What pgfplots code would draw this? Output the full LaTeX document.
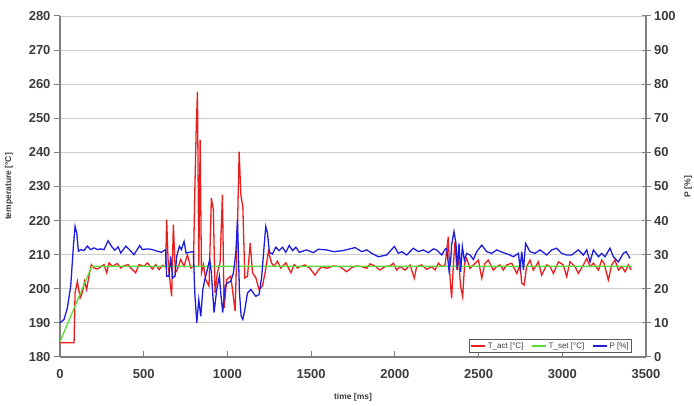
\documentclass[border=0pt]{standalone}
\usepackage{pgfplots}
\pgfplotsset{compat=1.18}
\usepackage{fontspec}
\setmainfont{Liberation Sans}

\definecolor{tact}{RGB}{235,30,30}
\definecolor{tset}{RGB}{90,220,60}
\definecolor{pline}{RGB}{30,30,225}
\definecolor{axisgray}{RGB}{128,128,128}
\definecolor{gridgray}{RGB}{205,205,205}
\definecolor{labelgray}{RGB}{60,60,60}

\pgfplotsset{
  chartbase/.style={
    at={(0,0)}, anchor=south west,
    scale only axis, width=586pt, height=341pt,
    xmin=0, xmax=3500,
    axis line style={draw=axisgray, line width=1.2pt},
    tick style={draw=axisgray, line width=1pt},
    major tick length=6pt,
    ticklabel style={font=\bfseries\fontsize{13}{13}\selectfont, text=labelgray},
    label style={font=\bfseries\fontsize{8.5}{8.5}\selectfont, text=labelgray},
    /pgf/number format/assume math mode=true,
    /pgf/number format/1000 sep={},
  },
}

\begin{document}
\begin{tikzpicture}[x=1pt,y=1pt]
\path[use as bounding box] (-60,-49) rectangle (634,357);

\begin{axis}[
    chartbase,
    ymin=180, ymax=280,
    xtick={0,500,...,3500},
    ytick={180,190,...,280},
    axis x line*=bottom, axis y line*=left,
    xtick align=inside, ytick align=outside,
    ymajorgrids, grid style={draw=gridgray, line width=0.8pt},
    xticklabel style={yshift=-9pt},
    xlabel={time [ms]}, ylabel={temperature [°C]},
    xlabel style={at={(axis description cs:0.5,-0.117)}, anchor=center},
    ylabel style={at={(axis description cs:-0.087,0.5)}, anchor=center},
    legend style={at={(0.976,0.012)}, anchor=south east,
        draw=black!65, line width=0.6pt, inner sep=1pt,
        font=\fontsize{8}{8}\selectfont, text=labelgray,
        legend columns=3,
        /tikz/every even column/.append style={column sep=6pt}},
    legend image post style={line width=1.2pt},
    legend image code/.code={\draw[#1] (0pt,0pt) -- (14pt,0pt);},
]

% T_act
\addplot[tact, line width=1.3pt] coordinates {
(0,184.2) (84,184.2) (90,198.8) (104,202.2) (120,197.3) (133,198.8) (147,202.2)
(159,199.8) (173,203.7) (187,207.1) (203,206.1) (223,205.8) (243,206.4) (263,207.1)
(279,204.7) (293,207.6) (313,206.6) (343,207.4) (363,206.1) (383,206.8) (407,207.1)
(423,206.1) (452,204.7) (472,207.1) (502,206.6) (522,207.6) (552,205.8) (572,207.1)
(592,205.6) (612,206.9) (631,206.4) (637,220.3) (647,206.6) (667,197.8) (677,218.8)
(689,204.7) (701,205.6) (721,208.6) (741,206.6) (761,210.0) (781,206.1) (797,206.6)
(805,228.0) (813,246.0) (821,257.8) (829,206.6) (837,243.6) (845,204.7) (857,207.1)
(870,202.7) (890,200.8) (904,226.6) (916,223.2) (926,198.8) (940,204.7) (956,207.6)
(970,227.6) (980,194.4) (996,202.7) (1020,203.7) (1046,193.5) (1060,218.3) (1070,240.2)
(1080,227.6) (1092,224.0) (1104,203.2) (1120,203.7) (1136,213.4) (1150,204.7) (1170,203.2)
(1189,199.8) (1209,200.8) (1225,204.7) (1245,211.0) (1263,207.6) (1279,206.6) (1299,208.1)
(1319,206.1) (1349,207.6) (1379,204.7) (1399,207.1) (1419,206.1)
(1434,206.5) (1463,207.0) (1493,206.0) (1523,204.0) (1543,205.5) (1563,206.5) (1593,206.0)
(1633,206.7) (1672,206.5) (1712,205.0) (1742,206.2) (1772,206.7) (1802,206.5) (1832,206.0)
(1852,207.3) (1881,206.7) (1911,205.5) (1941,206.5) (1971,206.7) (1991,207.5) (2011,205.5)
(2031,206.5) (2061,205.5) (2091,207.0) (2116,203.1) (2130,206.5) (2160,207.0) (2190,205.7)
(2220,206.5) (2240,205.5) (2260,207.5) (2280,206.5) (2300,207.0) (2319,215.3) (2329,203.6)
(2339,197.2) (2349,206.5) (2359,213.8) (2369,206.5) (2381,208.4) (2393,200.6) (2405,197.7)
(2417,207.5) (2429,208.9) (2449,206.0) (2469,207.0) (2499,208.4) (2519,203.1) (2538,207.5)
(2558,208.4) (2588,205.5) (2608,206.5) (2628,207.0) (2648,205.5) (2668,207.0) (2698,207.5)
(2728,204.5) (2748,207.0) (2758,201.6) (2772,201.1) (2787,206.5) (2807,208.4) (2827,205.5)
(2857,207.9) (2877,204.0) (2907,207.0) (2927,206.5) (2947,204.5) (2977,207.9) (3006,207.0)
(3026,203.6) (3046,207.9) (3076,206.5) (3096,204.5) (3126,207.0) (3146,208.9) (3166,206.5)
(3186,207.5) (3216,205.5) (3235,208.4) (3249,207.5) (3275,202.6) (3295,207.0) (3315,208.4)
(3335,205.5) (3355,206.5) (3375,205.0) (3395,207.0) (3411,205.5)
};
\addlegendentry{T\_act [°C]}

% T_set
\addplot[tset, line width=1.3pt] coordinates {
(0,184.5) (190,206.6) (3415,206.6)
};
\addlegendentry{T\_set [°C]}

\addlegendimage{pline, line width=1.3pt}
\addlegendentry{P [\%]}
\end{axis}

\begin{axis}[
    chartbase,
    ymin=0, ymax=100,
    ytick={0,10,...,100},
    axis y line*=right, axis x line=none,
    ytick align=center, major tick length=9pt,
    ylabel={P [\%]},
    ylabel style={at={(axis description cs:1.072,0.5)}, anchor=center},
]
% P
\addplot[pline, line width=1.3pt] coordinates {
(0,10.0) (24,11.0) (44,14.4) (64,20.8) (80,32.5) (90,38.3) (100,36.4) (110,31.0)
(124,31.5) (143,31.2) (163,32.5) (183,31.5) (203,32.0) (223,31.5) (243,31.7) (263,31.5)
(287,34.1) (307,32.5) (327,31.3) (347,32.3) (363,30.5) (393,32.5) (418,31.3) (442,30.0)
(476,32.7) (492,31.5) (522,31.7) (552,31.5) (582,31.0) (605,30.7) (631,31.5) (637,23.7)
(651,23.7) (661,29.5) (673,23.2) (687,23.7) (697,29.5) (713,32.5) (725,31.5) (741,33.9)
(753,30.5) (771,30.7) (797,30.9) (805,18.8) (817,10.0) (829,16.8) (841,11.9) (853,19.7)
(865,22.7) (880,25.6) (894,28.6) (904,24.7) (920,13.0) (936,19.7) (952,23.7) (960,18.8)
(972,13.0) (986,20.8) (1000,21.7) (1020,22.2) (1036,24.7) (1050,30.5) (1060,40.3) (1072,18.8)
(1082,12.0) (1092,11.0) (1104,13.9) (1120,18.8) (1140,19.8) (1169,17.8) (1189,18.3) (1205,23.7)
(1219,32.5) (1229,38.3) (1239,36.4) (1251,30.7) (1269,30.2) (1289,32.2) (1309,31.2) (1329,32.2)
(1349,30.7) (1369,32.7) (1389,31.2) (1409,32.2) (1429,30.7)
(1473,31.4) (1513,30.6) (1543,31.6) (1593,31.4) (1633,30.9) (1692,31.2) (1762,32.1) (1802,30.9)
(1832,31.4) (1862,30.4) (1901,29.4) (1951,29.9) (1997,32.4) (2021,30.4) (2041,30.9) (2071,29.9)
(2110,31.9) (2140,30.9) (2170,31.4) (2200,30.6) (2230,31.7) (2250,31.4) (2280,29.9) (2300,31.6)
(2310,31.9) (2323,25.5) (2333,27.9) (2339,32.8) (2353,36.8) (2365,33.3) (2373,25.5) (2383,33.3)
(2393,25.0) (2403,32.4) (2415,28.4) (2429,30.4) (2449,29.9) (2469,28.6) (2489,30.9) (2519,32.8)
(2548,30.9) (2578,30.4) (2608,31.4) (2648,30.6) (2688,29.9) (2708,29.4) (2738,30.4) (2748,26.0)
(2758,30.9) (2768,25.5) (2781,33.3) (2807,30.9) (2837,30.4) (2867,31.4) (2907,29.9) (2937,31.4)
(2966,31.9) (2996,30.4) (3026,29.9) (3056,29.9) (3096,31.4) (3126,29.9) (3146,31.4) (3166,27.9)
(3186,31.4) (3216,29.4) (3235,30.4) (3255,29.4) (3285,31.9) (3305,29.4) (3335,27.9) (3365,30.4)
(3381,30.9) (3405,28.9)
};
\end{axis}
\end{tikzpicture}
\end{document}
